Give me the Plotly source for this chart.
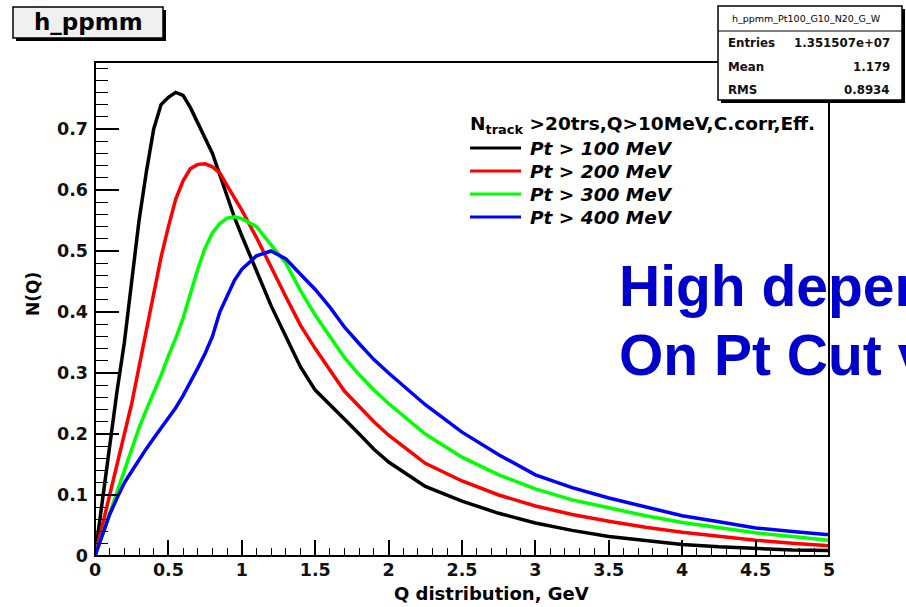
import plotly.graph_objects as go

# ---------------- data ----------------
q = [0.0, 0.05, 0.1, 0.15, 0.2, 0.25, 0.3, 0.35, 0.4, 0.45, 0.5, 0.55, 0.6, 0.65, 0.7,
     0.75, 0.8, 0.85, 0.9, 0.95, 1.0, 1.1, 1.2, 1.3, 1.4, 1.5, 1.6, 1.7, 1.8, 1.9, 2.0,
     2.25, 2.5, 2.75, 3.0, 3.25, 3.5, 3.75, 4.0, 4.25, 4.5, 4.75, 5.0]

pt100 = [0.0, 0.09, 0.19, 0.27, 0.35, 0.45, 0.55, 0.63, 0.70, 0.74, 0.752, 0.76, 0.755, 0.735, 0.71,
         0.685, 0.66, 0.625, 0.59, 0.555, 0.525, 0.468, 0.41, 0.36, 0.31, 0.272, 0.247, 0.224, 0.2, 0.175, 0.154,
         0.114, 0.09, 0.07, 0.054, 0.042, 0.032, 0.025, 0.019, 0.015, 0.012, 0.010, 0.009]

pt200 = [0.0, 0.05, 0.10, 0.15, 0.2, 0.25, 0.31, 0.37, 0.437, 0.49, 0.54, 0.585, 0.615, 0.635, 0.642,
         0.643, 0.638, 0.628, 0.607, 0.587, 0.567, 0.522, 0.472, 0.425, 0.378, 0.34, 0.305, 0.27, 0.245, 0.22, 0.198,
         0.152, 0.123, 0.1, 0.082, 0.068, 0.057, 0.047, 0.039, 0.032, 0.026, 0.021, 0.017]

pt300 = [0.0, 0.035, 0.072, 0.107, 0.143, 0.178, 0.21, 0.24, 0.268, 0.296, 0.328, 0.357, 0.39, 0.43, 0.47,
         0.505, 0.53, 0.545, 0.554, 0.556, 0.553, 0.54, 0.51, 0.48, 0.435, 0.395, 0.36, 0.325, 0.297, 0.272, 0.25,
         0.2, 0.162, 0.133, 0.11, 0.092, 0.079, 0.066, 0.055, 0.046, 0.038, 0.032, 0.026]

pt400 = [0.0, 0.035, 0.068, 0.095, 0.12, 0.139, 0.158, 0.176, 0.193, 0.21, 0.225, 0.243, 0.263, 0.285, 0.308,
         0.332, 0.36, 0.4, 0.425, 0.452, 0.47, 0.492, 0.5, 0.487, 0.462, 0.437, 0.408, 0.375, 0.348, 0.322, 0.3,
         0.248, 0.203, 0.166, 0.133, 0.112, 0.095, 0.08, 0.066, 0.056, 0.046, 0.04, 0.035]

series_names = ["Pt > 100 MeV", "Pt > 200 MeV", "Pt > 300 MeV", "Pt > 400 MeV"]
series_vals = [pt100, pt200, pt300, pt400]
series_cols = ["#000000", "#ff0000", "#00ff00", "#0000ff"]

x_ticks = [0, 0.5, 1, 1.5, 2, 2.5, 3, 3.5, 4, 4.5, 5]
x_tick_text = ["0", "0.5", "1", "1.5", "2", "2.5", "3", "3.5", "4", "4.5", "5"]
y_ticks = [0, 0.1, 0.2, 0.3, 0.4, 0.5, 0.6, 0.7]
y_tick_text = ["0", "0.1", "0.2", "0.3", "0.4", "0.5", "0.6", "0.7"]

stats_title = "h_ppmm_Pt100_G10_N20_G_W"
stats_rows = [("Entries", "1.351507e+07"), ("Mean", "1.179"), ("RMS", "0.8934")]

# ---------------- figure ----------------
W, H = 906, 607
FL, FR, FT, FB = 95, 829, 62, 556  # frame in pixels
WIDE = "DejaVu Sans, Verdana, sans-serif"
ARIAL = "Liberation Sans, Arial, Helvetica, sans-serif"

fig = go.Figure()
for name, vals, col in zip(series_names, series_vals, series_cols):
    fig.add_trace(go.Scatter(x=q, y=vals, mode="lines", name=name,
                             line=dict(color=col, width=3.5), showlegend=False,
                             xaxis="x", yaxis="y"))

# Big blue text (on pixel overlay axes so the frame is drawn above it)
fig.add_trace(go.Scatter(x=[619, 619], y=[292, 361], mode="text",
                         text=["<b>High dependence</b>", "<b>On Pt Cut value</b>"],
                         textposition="middle right",
                         textfont=dict(family=ARIAL, size=57, color="#0000cc"),
                         cliponaxis=False, showlegend=False, hoverinfo="skip",
                         xaxis="x2", yaxis="y2"))

shapes = []
shapes.append(dict(type="rect", xref="x2", yref="y2", x0=FL, x1=FR, y0=FT, y1=FB,
                   line=dict(color="black", width=2), layer="above"))
# title box with shadow
shapes.append(dict(type="rect", xref="x2", yref="y2", x0=16, x1=166, y0=10, y1=41,
                   fillcolor="black", line=dict(width=0), layer="above"))
shapes.append(dict(type="rect", xref="x2", yref="y2", x0=13, x1=163, y0=7, y1=38,
                   fillcolor="#f0f0f0", line=dict(color="black", width=1.5), layer="above"))
# stats box with shadow
shapes.append(dict(type="rect", xref="x2", yref="y2", x0=721, x1=905, y0=9, y1=103,
                   fillcolor="black", line=dict(width=0), layer="above"))
shapes.append(dict(type="rect", xref="x2", yref="y2", x0=718, x1=902, y0=6, y1=100,
                   fillcolor="white", line=dict(color="black", width=1.5), layer="above"))
shapes.append(dict(type="line", xref="x2", yref="y2", x0=718, x1=902, y0=31, y1=31,
                   line=dict(color="black", width=1.2), layer="above"))
# legend lines
leg_y = [148, 171, 194, 217]
for yy, col in zip(leg_y, series_cols):
    shapes.append(dict(type="line", xref="x2", yref="y2", x0=470, x1=521, y0=yy, y1=yy,
                       line=dict(color=col, width=3), layer="above"))

ann = []
ann.append(dict(x=88, y=22, xref="x2", yref="y2", text="<b>h_ppmm</b>", showarrow=False,
                font=dict(family=WIDE, size=23, color="black"), xanchor="center", yanchor="middle"))
ann.append(dict(x=806, y=18, xref="x2", yref="y2", text=stats_title, showarrow=False,
                font=dict(family=WIDE, size=9.5, color="black"), xanchor="center", yanchor="middle"))
for (lab, val), yy in zip(stats_rows, [43, 67, 90]):
    ann.append(dict(x=726, y=yy, xref="x2", yref="y2", text="<b>%s</b>" % lab, showarrow=False,
                    font=dict(family=WIDE, size=11.8, color="#111"), xanchor="left", yanchor="middle"))
    ann.append(dict(x=892, y=yy, xref="x2", yref="y2", text="<b>%s</b>" % val, showarrow=False,
                    font=dict(family=WIDE, size=11.8, color="#111"), xanchor="right", yanchor="middle"))
# legend header and labels
ann.append(dict(x=468, y=125, xref="x2", yref="y2",
                text="<b>N<sub>track</sub> >20trs,Q>10MeV,C.corr,Eff.</b>", showarrow=False,
                font=dict(family=WIDE, size=18.5, color="black"), xanchor="left", yanchor="middle"))
for yy, name in zip(leg_y, series_names):
    ann.append(dict(x=528, y=yy, xref="x2", yref="y2", text="<b><i>%s</i></b>" % name,
                    showarrow=False, font=dict(family=WIDE, size=18.5, color="black"),
                    xanchor="left", yanchor="middle"))
# axis titles
ann.append(dict(x=491, y=593, xref="x2", yref="y2", text="<b>Q distribution, GeV</b>",
                showarrow=False, font=dict(family=WIDE, size=18, color="black"),
                xanchor="center", yanchor="middle"))
ann.append(dict(x=33, y=294, xref="x2", yref="y2", text="<b>N(Q)</b>", textangle=-90,
                showarrow=False, font=dict(family=WIDE, size=17, color="black"),
                xanchor="center", yanchor="middle"))

fig.update_layout(
    width=W, height=H, margin=dict(l=0, r=0, t=0, b=0, pad=0, autoexpand=False),
    paper_bgcolor="white", plot_bgcolor="rgba(0,0,0,0)",
    showlegend=False, shapes=shapes, annotations=ann,
    xaxis=dict(domain=[FL / W, FR / W], range=[0, 5], tickvals=x_ticks, ticktext=x_tick_text,
               ticks="inside", ticklen=16, tickwidth=1.5, tickcolor="black",
               minor=dict(dtick=0.1, ticks="inside", ticklen=8, tickwidth=1.2, tickcolor="black", showgrid=False),
               showgrid=False, zeroline=False, showline=False, automargin=False, ticklabelstandoff=1,
               tickfont=dict(family=WIDE, size=17.5, color="#111", weight="bold"),
               anchor="y", fixedrange=True),
    yaxis=dict(domain=[1 - FB / H, 1 - FT / H], range=[0, (FB - FT) / 610.0], tickvals=y_ticks,
               ticktext=y_tick_text,
               ticks="inside", ticklen=24, tickwidth=1.5, tickcolor="black",
               minor=dict(dtick=0.02, ticks="inside", ticklen=13, tickwidth=1.2, tickcolor="black", showgrid=False),
               showgrid=False, zeroline=False, showline=False, automargin=False, ticklabelstandoff=6,
               tickfont=dict(family=WIDE, size=17.5, color="#111", weight="bold"),
               anchor="x", fixedrange=True),
    xaxis2=dict(domain=[0, 1], range=[0, W], visible=False, anchor="y2", fixedrange=True, automargin=False),
    yaxis2=dict(domain=[0, 1], range=[H, 0], visible=False, anchor="x2", fixedrange=True, automargin=False),
)

fig.write_html("out.html")
